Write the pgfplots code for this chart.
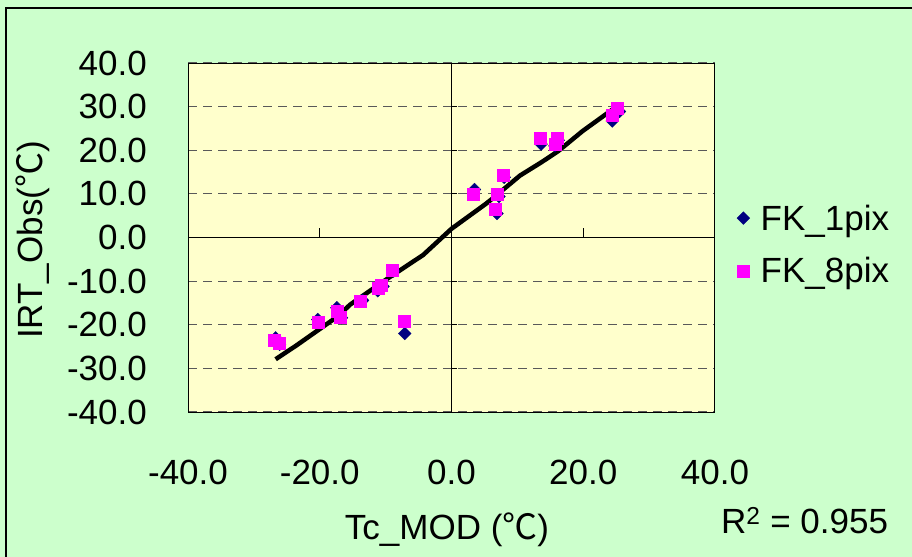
\documentclass[border=0pt]{standalone}
\usepackage{pgfplots}
\pgfplotsset{compat=1.18}
\usepackage{fontspec}
\setmainfont{Liberation Sans}
\newfontfamily\cjk{Noto Sans CJK JP}
\definecolor{bggreen}{HTML}{CCFFCC}
\definecolor{plotyellow}{HTML}{FFFFCC}
\definecolor{navyblue}{HTML}{000080}
\definecolor{mag}{HTML}{FF00FF}
\begin{document}
\begin{tikzpicture}[font=\fontsize{35bp}{42bp}\selectfont]
\useasboundingbox (0bp,0bp) rectangle (912bp,-557bp);
\fill[bggreen] (0bp,0bp) rectangle (912bp,-557bp);
\draw[black, line width=1.5bp] (6bp,-8bp) rectangle (940bp,-590bp);
\begin{axis}[
  at={(188bp,-412bp)}, anchor=south west,
  scale only axis, width=527bp, height=349bp,
  xmin=-40, xmax=40, ymin=-40, ymax=40,
  xtick={-40,-20,...,40}, ytick={-40,-30,...,40},
  axis background/.style={fill=plotyellow},
  axis line style={line width=1bp},
  tick style={draw=none},
  ymajorgrids,
  major grid style={dash pattern=on 9bp off 6bp, line width=1.2bp, color=black!65},
  tick label style={/pgf/number format/fixed, /pgf/number format/fixed zerofill, /pgf/number format/precision=1, /pgf/number format/assume math mode=true},
  xticklabel style={anchor=center, yshift=-60bp},
  yticklabel style={anchor=east, inner sep=0pt, xshift=-41bp},
  xlabel={Tc\_MOD ({\cjk ℃})},
  ylabel={IRT\_Obs({\cjk ℃})},
  x label style={at={(axis description cs:0.4915,-0.338)}, anchor=center},
  y label style={at={(axis description cs:-0.294,0.493)}, anchor=center},
  legend style={at={(axis description cs:1.0357,0.48)}, anchor=west, draw=none, fill=none, row sep=22bp, column sep=9bp},
  legend cell align=left,
]
\draw[black, line width=1.2bp] (axis cs:-40,0) -- (axis cs:40,0);
\draw[black, line width=1.2bp] (axis cs:0,-40) -- (axis cs:0,40);
\pgfplotsinvokeforeach{-40,-20,20,40}{\draw[black, line width=1bp] (axis cs:#1,0) -- ++(0bp,10bp);}
\pgfplotsinvokeforeach{-40,-30,-20,-10,10,20,30,40}{\draw[black, line width=1bp] (axis cs:0,#1) -- ++(6bp,0bp);}
\addplot[only marks, mark=square*, mark size=4.5bp, mark options={rotate=45, fill=navyblue, draw=navyblue}] coordinates {
(-26.7,-23.0) (-26.1,-24.5) (-20.3,-18.8) (-17.4,-16.1) (-16.7,-18.4) (-13.5,-14.4) (-11.2,-12.2) (-10.4,-11.2) (-8.8,-7.7) (-7.1,-22.0) (3.5,11.0) (6.9,5.5) (7.2,9.4) (8.0,13.8) (13.6,21.4) (15.7,21.0) (16.2,22.3) (24.4,26.7) (25.5,28.9)
};
\addlegendentry{FK\_1pix}
\addplot[only marks, mark=square*, mark size=6bp, mark options={fill=mag, draw=mag}] coordinates {
(-26.9,-23.6) (-26.2,-24.3) (-20.3,-19.5) (-17.4,-16.9) (-16.9,-18.3) (-13.8,-14.6) (-11.2,-11.7) (-10.6,-11.0) (-9.0,-7.4) (-7.2,-19.2) (3.3,10.0) (6.7,6.4) (7.0,10.0) (7.8,14.2) (13.5,22.7) (15.7,21.4) (16.0,22.7) (24.4,28.0) (25.2,29.7)
};
\addlegendentry{FK\_8pix}
\addplot[black, line width=4.5bp, no marks, forget plot] coordinates {
(-26.7,-27.9) (-23.6,-24.8) (-17.2,-18.0) (-15.4,-15.4) (-9.6,-9.3) (-4.3,-4.0) (0,2.0) (5.2,7.7) (6.2,8.9) (10.4,14.2) (13.6,17.2) (16.2,19.8) (19.9,24.4) (25.5,30.5)
};
\end{axis}
\node[anchor=base west, inner sep=0pt] at (721bp,-533bp) {R\textsuperscript{2} = 0.955};
\end{tikzpicture}
\end{document}
